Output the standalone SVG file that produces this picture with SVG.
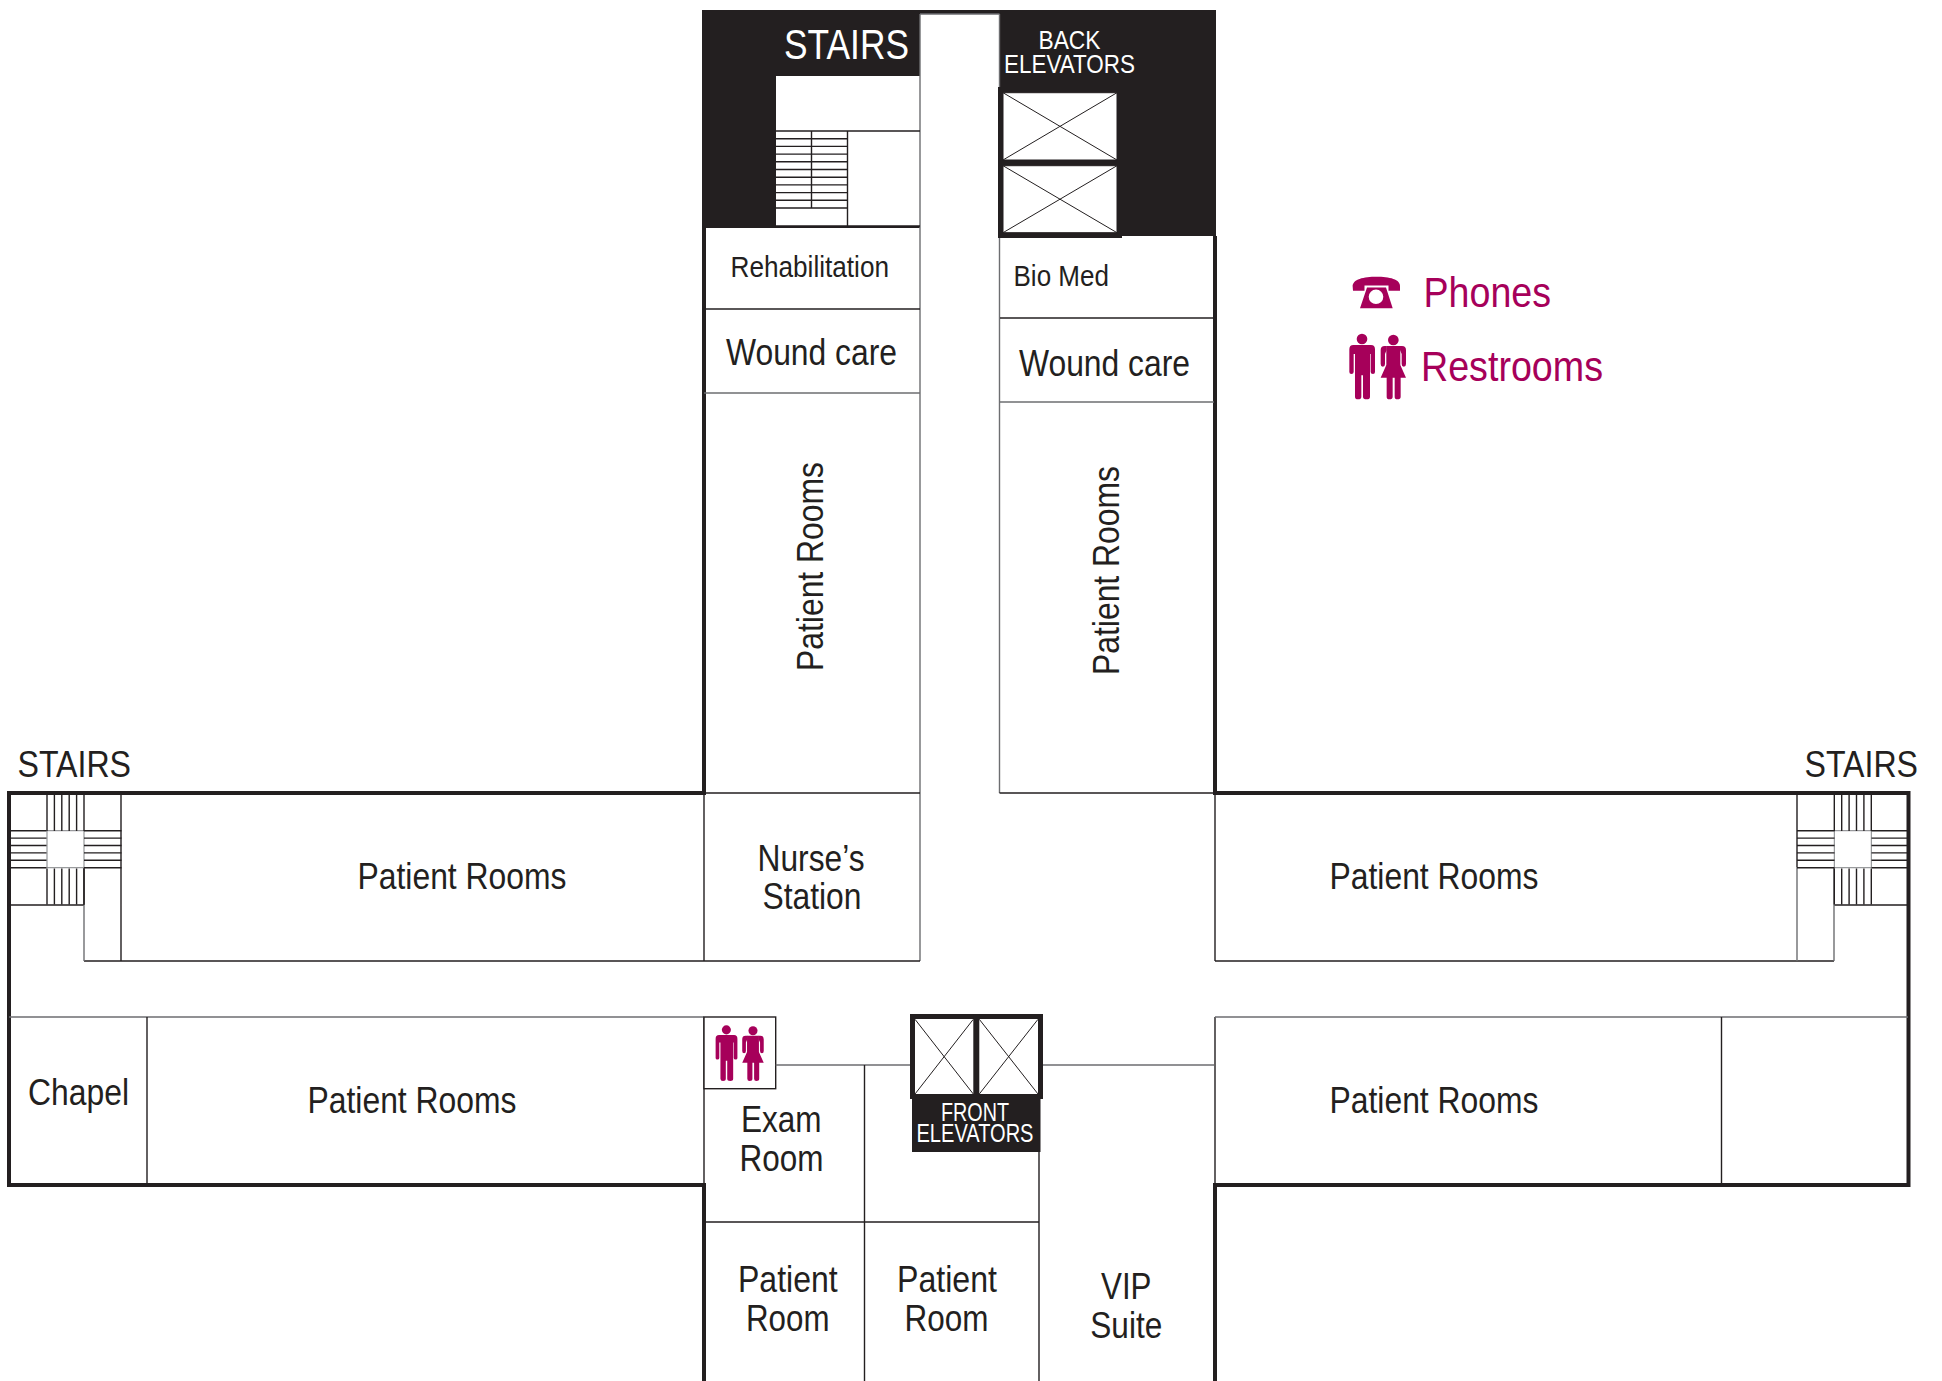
<svg xmlns="http://www.w3.org/2000/svg" width="1942" height="1381" viewBox="0 0 1942 1381">
<style>
.t{font-family:"Liberation Sans",Arial,sans-serif;fill:#231f20}
.w{fill:#fff}
.p{fill:#a6005a}
.s37{font-size:37px}.s42{font-size:42px}.s29{font-size:29px}.s25{font-size:25px}
.thin{stroke:#231f20;stroke-width:1.4;fill:none}
.gray{stroke:#6d6e71;stroke-width:1.4;fill:none}
.thick{stroke:#231f20;stroke-width:4;fill:none}
.box{fill:#fff;stroke:#231f20;stroke-width:1}
.x{stroke:#231f20;stroke-width:1;fill:none}
</style>
<defs>
<g id="people" class="p">
<circle cx="66" cy="267" r="16"/>
<path d="M40 285H93Q105 285 105 298V366Q105 372 99 372Q92 372 92 366V312H90V440Q90 448 80 448Q69 448 69 440V376H64V440Q64 448 54 448Q45 448 45 440V312H41V366Q41 372 34 372Q28 372 28 366V298Q28 285 40 285Z"/>
<circle cx="160" cy="270" r="16"/>
<path d="M139 288H181V345L198 383H182V440Q182 448 172 448Q164 448 164 440V383H158V440Q158 448 148 448Q140 448 140 440V383H122L139 345Z"/>
<path d="M134 288H140V300L135 312V342Q135 350 128.500 350Q122 350 122 342V300Q122 288 134 288ZM186 288H180V300L185 312V342Q185 350 191.500 350Q198 350 198 342V300Q198 288 186 288Z"/>
</g>
<g id="treads" class="thin">
<path d="M0 0H37.500M0 7.400H37.500M0 14.800H37.500M0 22.200H37.500M0 29.600H37.500M0 37H37.500"/>
</g>
<g id="risers" class="thin">
<path d="M0 0V36M7.400 0V36M14.800 0V36M22.200 0V36M29.600 0V36M37 0V36"/>
</g>
</defs>

<g id="back-block">
<path d="M702 10H1216V236H1000V228H702Z" fill="#231f20"/>
<rect x="920" y="14" width="79.500" height="950" class="w"/>
<rect x="776" y="76" width="144" height="150" class="w"/>
</g>

<g id="walls">
<path class="gray" d="M920 14V961M999.500 14V793M920 14H999.500"/>
<path class="thick" d="M704 226V793H9V1185H704V1381M1215 236V793H1908.500V1185H1215V1381"/>
<path class="thin" d="M704 793V961M84 961H920M1215 793V961M1215 961H1834M704 1017V1185M1215 1017V1185M704 793H920M999.500 793H1215"/>
<path class="gray" d="M9 1017H704M1215 1017H1908"/>
<path class="thin" d="M147 1017V1185M1721.500 1017V1185"/>
</g>

<g id="back-stairs">
<path class="thin" d="M776 131H920M847.500 131V226M811.500 131V208M776 226H920"/>
<path class="thin" d="M776 138.700H847.500M776 146.400H847.500M776 154.100H847.500M776 161.800H847.500M776 169.500H847.500M776 177.200H847.500M776 184.900H847.500M776 192.600H847.500M776 200.300H847.500M776 208H847.500"/>
</g>

<g id="back-elevators">
<rect x="1000.500" y="89.500" width="119" height="146" fill="#231f20" stroke="#231f20" stroke-width="5"/>
<rect x="1003" y="92.700" width="114" height="67.300" class="box"/>
<path class="x" d="M1003 92.700L1117 160M1117 92.700L1003 160"/>
<rect x="1003" y="165.700" width="114" height="67" class="box"/>
<path class="x" d="M1003 165.700L1117 232.700M1117 165.700L1003 232.700"/>
<text class="t" x="1038.500" y="49.300" textLength="62" lengthAdjust="spacingAndGlyphs" style="fill:#fff;font-size:26px">BACK</text>
<text class="t" x="1004" y="73.300" textLength="131" lengthAdjust="spacingAndGlyphs" style="fill:#fff;font-size:26px">ELEVATORS</text>
</g>
<text id="stairs-back" class="t s42" x="784" y="58.500" textLength="125" lengthAdjust="spacingAndGlyphs" style="fill:#fff">STAIRS</text>

<g id="rehabilitation">
<path class="thin" d="M704 309H920"/>
<text class="t s29" x="730.500" y="277" textLength="158.500" lengthAdjust="spacingAndGlyphs">Rehabilitation</text>
</g>
<g id="wound-care-left">
<path class="gray" d="M704 393H920"/>
<text class="t s37" x="726" y="365" textLength="171" lengthAdjust="spacingAndGlyphs">Wound care</text>
</g>
<g id="bio-med">
<path class="thin" d="M1000 318H1214"/>
<text class="t s29" x="1013.500" y="286" textLength="95.500" lengthAdjust="spacingAndGlyphs">Bio Med</text>
</g>
<g id="wound-care-right">
<path class="gray" d="M1000 402H1214"/>
<text class="t s37" x="1019" y="375.500" textLength="171" lengthAdjust="spacingAndGlyphs">Wound care</text>
</g>
<g id="patient-rooms-north-left">
<text class="t s37" transform="translate(823 671) rotate(-90)" textLength="209" lengthAdjust="spacingAndGlyphs">Patient Rooms</text>
</g>
<g id="patient-rooms-north-right">
<text class="t s37" transform="translate(1118.500 675) rotate(-90)" textLength="209" lengthAdjust="spacingAndGlyphs">Patient Rooms</text>
</g>

<g id="stairs-west">
<path class="thin" d="M9 905H84M121 795V961M84 867.500V905"/>
<path class="gray" d="M84 905V961"/>
<rect x="47" y="830.700" width="37" height="37" fill="#fff" stroke="#808285" stroke-width="1"/>
<use href="#risers" x="47" y="795"/>
<use href="#risers" x="47" y="868.500"/>
<use href="#treads" x="9" y="830.700"/>
<use href="#treads" x="84" y="830.700"/>
<text class="t s37" x="17.500" y="777" textLength="113.500" lengthAdjust="spacingAndGlyphs">STAIRS</text>
</g>
<g id="stairs-east">
<path class="thin" d="M1834 905H1908M1797 795V867.500"/>
<path class="gray" d="M1797 867.500V961M1834 867.500V961"/>
<rect x="1834.300" y="830.700" width="37" height="37" fill="#fff" stroke="#808285" stroke-width="1"/>
<use href="#risers" x="1834.300" y="795"/>
<use href="#risers" x="1834.300" y="868.500"/>
<use href="#treads" x="1797" y="830.700"/>
<use href="#treads" x="1871.500" y="830.700"/>
<text class="t s37" x="1804.500" y="777" textLength="113.500" lengthAdjust="spacingAndGlyphs">STAIRS</text>
</g>

<text id="rooms-nw" class="t s37" x="357.500" y="889.300" textLength="209" lengthAdjust="spacingAndGlyphs">Patient Rooms</text>
<g id="nurses-station">
<text class="t s37" x="757.500" y="870.800" textLength="107" lengthAdjust="spacingAndGlyphs">Nurse’s</text>
<text class="t s37" x="762.500" y="909.200" textLength="99" lengthAdjust="spacingAndGlyphs">Station</text>
</g>
<text id="rooms-ne" class="t s37" x="1329.500" y="889.300" textLength="209" lengthAdjust="spacingAndGlyphs">Patient Rooms</text>
<text id="chapel" class="t s37" x="28" y="1105" textLength="101" lengthAdjust="spacingAndGlyphs">Chapel</text>
<text id="rooms-sw" class="t s37" x="307.500" y="1113.300" textLength="209" lengthAdjust="spacingAndGlyphs">Patient Rooms</text>
<text id="rooms-se" class="t s37" x="1329.500" y="1113.300" textLength="209" lengthAdjust="spacingAndGlyphs">Patient Rooms</text>

<g id="restroom">
<rect x="704" y="1017" width="71.700" height="71.700" fill="#fff" stroke="#231f20" stroke-width="1.400"/>
<use href="#people" transform="translate(707.700 954.300) scale(0.283)"/>
</g>
<g id="south-rooms">
<path class="gray" d="M775.700 1065H910M1043 1065H1214"/>
<path class="thin" d="M864.500 1065V1381M704 1222H1039M1039 1152V1381"/>
</g>
<g id="exam-room">
<text class="t s37" x="741" y="1131.500" textLength="80.600" lengthAdjust="spacingAndGlyphs">Exam</text>
<text class="t s37" x="739.500" y="1170.500" textLength="84" lengthAdjust="spacingAndGlyphs">Room</text>
</g>
<g id="patient-room-1">
<text class="t s37" x="738" y="1292.300" textLength="99.700" lengthAdjust="spacingAndGlyphs">Patient</text>
<text class="t s37" x="746" y="1330.500" textLength="83.500" lengthAdjust="spacingAndGlyphs">Room</text>
</g>
<g id="patient-room-2">
<text class="t s37" x="897" y="1292.300" textLength="100" lengthAdjust="spacingAndGlyphs">Patient</text>
<text class="t s37" x="904.500" y="1330.500" textLength="84" lengthAdjust="spacingAndGlyphs">Room</text>
</g>
<g id="vip-suite">
<text class="t s37" x="1101" y="1299" textLength="50.500" lengthAdjust="spacingAndGlyphs">VIP</text>
<text class="t s37" x="1090.300" y="1338" textLength="72" lengthAdjust="spacingAndGlyphs">Suite</text>
</g>

<g id="front-elevators">
<rect x="912" y="1090" width="128.500" height="62" fill="#231f20"/>
<rect x="912.500" y="1016.500" width="128" height="80" fill="#fff" stroke="#231f20" stroke-width="5"/>
<path d="M976.300 1014V1097" stroke="#231f20" stroke-width="6"/>
<path class="x" d="M915 1019.300L973.300 1094M973.300 1019.300L915 1094M979.300 1019.300L1038 1094M1038 1019.300L979.300 1094"/>
<text class="t s25" x="941" y="1121" textLength="68" lengthAdjust="spacingAndGlyphs" style="fill:#fff">FRONT</text>
<text class="t s25" x="916.500" y="1141.700" textLength="117" lengthAdjust="spacingAndGlyphs" style="fill:#fff">ELEVATORS</text>
</g>

<g id="legend-phones">
<path class="p" d="M1352.700 287C1352 279 1364 276.700 1376.500 276.700C1389 276.700 1401 279 1400 287L1400 290.700H1388.500V285.500H1364.500V290.700H1353Z"/>
<path class="p" fill-rule="evenodd" d="M1367 287.500H1386L1392.700 308.300H1360ZM1376 289.500A7.300 7.300 0 1 0 1376 304.100A7.300 7.300 0 1 0 1376 289.500Z"/>
<text class="t s42" x="1423.500" y="307.300" textLength="127.500" lengthAdjust="spacingAndGlyphs" style="fill:#a6005a">Phones</text>
</g>
<g id="legend-restrooms">
<use href="#people" transform="translate(1340 250) scale(0.3333)"/>
<text class="t s42" x="1421" y="380.500" textLength="182" lengthAdjust="spacingAndGlyphs" style="fill:#a6005a">Restrooms</text>
</g>
</svg>
